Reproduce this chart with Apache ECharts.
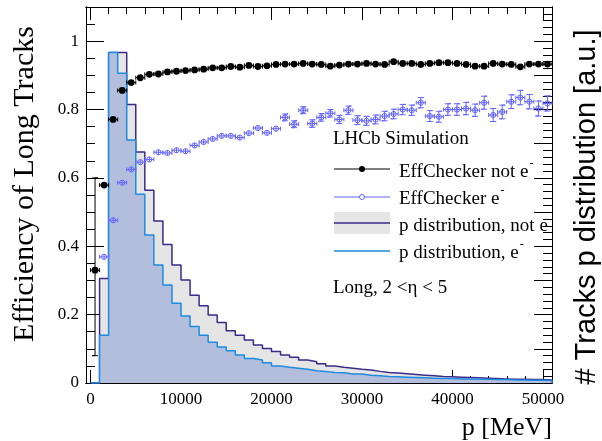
<!DOCTYPE html>
<html>
<head>
<meta charset="utf-8">
<script src="https://cdn.jsdelivr.net/npm/echarts@6/dist/echarts.min.js"></script>
<style>
  html, body { margin: 0; padding: 0; background: #fff; }
  #chart { width: 602px; height: 441px; }
</style>
</head>
<body>
<div id="chart"></div>
<script>
const SERIF = '"Liberation Serif", "Times New Roman", serif';
const SANS = '"Liberation Sans", Arial, sans-serif';

// p bins [MeV], 1 GeV wide, lower edges
const BIN = 1000;
const pBinLow = [0, 1000, 2000, 3000, 4000, 5000, 6000, 7000, 8000, 9000,
  10000, 11000, 12000, 13000, 14000, 15000, 16000, 17000, 18000, 19000,
  20000, 21000, 22000, 23000, 24000, 25000, 26000, 27000, 28000, 29000,
  30000, 31000, 32000, 33000, 34000, 35000, 36000, 37000, 38000, 39000,
  40000, 41000, 42000, 43000, 44000, 45000, 46000, 47000, 48000, 49000, 50000];

// p distributions (a.u.)
const histNotE = [0, 0.306, 0.967, 0.967, 0.815, 0.676, 0.564, 0.474, 0.405, 0.345,
  0.301, 0.257, 0.226, 0.199, 0.177, 0.153, 0.140, 0.126, 0.111, 0.101,
  0.092, 0.082, 0.075, 0.067, 0.062, 0.056, 0.050, 0.046, 0.043, 0.040,
  0.038, 0.034, 0.031, 0.029, 0.027, 0.025, 0.023, 0.021, 0.019, 0.018,
  0.017, 0.016, 0.015, 0.014, 0.013, 0.012, 0.011, 0.011, 0.010, 0.010, 0.009];
const histE = [0, 0.140, 0.967, 0.906, 0.711, 0.552, 0.433, 0.345, 0.287, 0.233,
  0.196, 0.165, 0.140, 0.119, 0.105, 0.094, 0.082, 0.072, 0.067, 0.059,
  0.050, 0.046, 0.043, 0.040, 0.036, 0.034, 0.031, 0.030, 0.026, 0.026,
  0.023, 0.021, 0.019, 0.018, 0.017, 0.016, 0.015, 0.014, 0.013, 0.013,
  0.012, 0.012, 0.011, 0.011, 0.010, 0.010, 0.009, 0.009, 0.008, 0.008, 0.007];

// efficiencies per bin
const effNotE = [0.330, 0.579, 0.771, 0.856, 0.879, 0.893, 0.903, 0.904, 0.910, 0.912,
  0.914, 0.916, 0.918, 0.922, 0.922, 0.926, 0.924, 0.929, 0.926, 0.928,
  0.932, 0.933, 0.933, 0.935, 0.933, 0.932, 0.927, 0.930, 0.933, 0.933,
  0.935, 0.933, 0.932, 0.940, 0.935, 0.935, 0.932, 0.935, 0.937, 0.937,
  0.935, 0.932, 0.927, 0.927, 0.935, 0.933, 0.932, 0.925, 0.933, 0.933, 0.933];
const effNotEErrHi = [0.270, 0.008, 0.005, 0.004, 0.004, 0.003, 0.003, 0.003, 0.003, 0.003,
  0.003, 0.003, 0.003, 0.003, 0.003, 0.003, 0.003, 0.003, 0.003, 0.003,
  0.003, 0.003, 0.003, 0.003, 0.003, 0.003, 0.003, 0.003, 0.003, 0.003,
  0.003, 0.003, 0.003, 0.003, 0.003, 0.003, 0.003, 0.003, 0.003, 0.003,
  0.003, 0.003, 0.003, 0.003, 0.003, 0.003, 0.003, 0.003, 0.003, 0.003, 0.003];
const effNotEErrLo = [0.250].concat(effNotEErrHi.slice(1));

const effE = [null, 0.369, 0.476, 0.586, 0.625, 0.646, 0.654, 0.675, 0.673, 0.681,
  0.678, 0.695, 0.705, 0.714, 0.723, 0.723, 0.718, 0.731, 0.746, 0.732,
  0.744, 0.777, 0.757, 0.798, 0.759, 0.777, 0.789, 0.771, 0.798, 0.769,
  0.767, 0.771, 0.781, 0.787, 0.800, 0.798, 0.820, 0.781, 0.779, 0.800,
  0.800, 0.803, 0.798, 0.820, 0.784, 0.793, 0.823, 0.835, 0.823, 0.803, 0.818];
const effEErr = [null, 0.007, 0.006, 0.005, 0.005, 0.005, 0.005, 0.005, 0.005, 0.006,
  0.006, 0.006, 0.006, 0.007, 0.007, 0.007, 0.008, 0.008, 0.008, 0.009,
  0.009, 0.010, 0.010, 0.010, 0.011, 0.011, 0.011, 0.012, 0.012, 0.013,
  0.013, 0.013, 0.014, 0.014, 0.015, 0.015, 0.015, 0.016, 0.016, 0.017,
  0.017, 0.018, 0.018, 0.019, 0.019, 0.020, 0.020, 0.021, 0.021, 0.022, 0.022];

// axis ticks
const xMajor = [0, 10000, 20000, 30000, 40000, 50000];
const yMajor = [0, 0.2, 0.4, 0.6, 0.8, 1];
const xMinor = [], yMinor = [], rMajor = [], rMinor = [];
for (let v = 0; v <= 50000; v += 2000) xMinor.push(v);
for (let k = 0; k <= 22; k++) yMinor.push(+(k * 0.05).toFixed(2));
for (let k = 0; k <= 11; k++) rMajor.push(+(k * 0.1).toFixed(2));
for (let k = 0; k <= 55; k++) rMinor.push(+(k * 0.02).toFixed(2));

const C_EFF_E = '#6464ff';
const C_HIST_NOTE = '#3b2a8a';
const C_FILL_NOTE = '#e5e5e5';
const C_HIST_E = '#1c8be0';
const C_FILL_E = '#b3bedd';

function stepData(h) {
  const d = pBinLow.map((x, i) => [x, h[i]]);
  d.push([pBinLow[pBinLow.length - 1] + BIN, 0]);
  return d;
}

// [p, eff] points
function effPts(vals) {
  const d = [];
  vals.forEach((v, i) => { if (v != null) d.push([pBinLow[i] + BIN / 2, v]); });
  return d;
}
// [p, low, high] for the vertical error bars
function errPts(vals, lo, hi) {
  const d = [];
  vals.forEach((v, i) => { if (v != null) d.push([pBinLow[i] + BIN / 2, v - lo[i], v + hi[i]]); });
  return d;
}

// marker + horizontal (bin width) error bar
function markerRender(color, filled, r) {
  const seg = (x1, y1, x2, y2) => ({
    type: 'line', shape: { x1, y1, x2, y2 }, style: { stroke: color, lineWidth: 1 }
  });
  return function (params, api) {
    const x = api.value(0), y = api.value(1);
    const c = api.coord([x, y]);
    const xl = api.coord([x - BIN / 2, y])[0];
    const xr = api.coord([x + BIN / 2, y])[0];
    const ch = [
      seg(xl, c[1], xr, c[1]),
      seg(xl, c[1] - 2, xl, c[1] + 2),
      seg(xr, c[1] - 2, xr, c[1] + 2),
      { type: 'circle', shape: { cx: c[0], cy: c[1], r: r },
        style: filled ? { fill: color } : { fill: 'none', stroke: color, lineWidth: 1 } }
    ];
    if (!filled) ch.push(seg(c[0], c[1] - r, c[0], c[1] + r));
    return { type: 'group', children: ch };
  };
}

// vertical error bar with caps, only where it sticks out of the marker
function errRender(color, r) {
  return function (params, api) {
    const x = api.value(0);
    const pb = api.coord([x, api.value(1)]);
    const pt = api.coord([x, api.value(2)]);
    if (!(pb[1] - pt[1] > 2 * r + 1)) return null;
    return {
      type: 'polyline',
      shape: { points: [[pt[0] - 3, pt[1]], [pt[0] + 3, pt[1]], [pt[0], pt[1]], [pb[0], pb[1]], [pb[0] - 3, pb[1]], [pb[0] + 3, pb[1]]] },
      style: { stroke: color, lineWidth: 1, fill: null }
    };
  };
}

const plainNum = v => String(v);

function xAx(pos, ticks, len, labels) {
  return {
    type: 'value', min: -500, max: 51000, position: pos,
    axisLine: { show: true, onZero: false, lineStyle: { color: '#000', width: 1 } },
    splitLine: { show: false },
    axisTick: { show: true, inside: true, length: len, customValues: ticks, lineStyle: { color: '#000', width: 1 } },
    axisLabel: labels ? { show: true, customValues: ticks, formatter: plainNum, color: '#000', fontFamily: SERIF, fontSize: 17, margin: 8 } : { show: false }
  };
}
function yAx(pos, ticks, len, labels) {
  return {
    type: 'value', min: 0, max: 1.1, position: pos,
    axisLine: { show: true, onZero: false, lineStyle: { color: '#000', width: 1 } },
    splitLine: { show: false },
    axisTick: { show: true, inside: true, length: len, customValues: ticks, lineStyle: { color: '#000', width: 1 } },
    axisLabel: labels ? { show: true, customValues: ticks, formatter: plainNum, color: '#000', fontFamily: SERIF, fontSize: 17, margin: 7 } : { show: false }
  };
}

// text width for superscripts in the legend
const mctx = document.createElement('canvas').getContext('2d');
function textW(str, font) { mctx.font = font; return mctx.measureText(str).width; }

const LEG_FONT = '19px ' + SERIF;
function legText(x, y, str, sup) {
  const els = [{
    type: 'text', x: x, y: y,
    style: { text: str, font: LEG_FONT, fill: '#000', textAlign: 'left', textVerticalAlign: 'middle' }
  }];
  if (sup) {
    els.push({
      type: 'text', x: x + textW(str, LEG_FONT) + 1, y: y - 8,
      style: { text: '-', font: '12px ' + SERIF, fill: '#000', textAlign: 'left', textVerticalAlign: 'middle' }
    });
  }
  return els;
}

const graphics = [
  { type: 'text', x: 25, y: 184, rotation: Math.PI / 2,
    style: { text: 'Efficiency of Long Tracks', font: '30px ' + SERIF, fill: '#000', textAlign: 'center', textVerticalAlign: 'middle' } },
  { type: 'text', x: 587, y: 207, rotation: Math.PI / 2,
    style: { text: '# Tracks p distribution [a.u.]', font: '29px ' + SANS, fill: '#000', textAlign: 'center', textVerticalAlign: 'middle' } },
  { type: 'text', x: 552, y: 428,
    style: { text: 'p [MeV]', font: '26px ' + SERIF, fill: '#000', textAlign: 'right', textVerticalAlign: 'middle' } },
  { type: 'text', x: 333, y: 139,
    style: { text: 'LHCb Simulation', font: '19px ' + SERIF, fill: '#000', textAlign: 'left', textVerticalAlign: 'middle' } },
  // legend row 1
  { type: 'line', shape: { x1: 334, y1: 169, x2: 390, y2: 169 }, style: { stroke: '#000', lineWidth: 1.2 } },
  { type: 'circle', shape: { cx: 362, cy: 169, r: 3 }, style: { fill: '#000' } },
  // legend row 2
  { type: 'line', shape: { x1: 334, y1: 197, x2: 390, y2: 197 }, style: { stroke: C_EFF_E, lineWidth: 1.2 } },
  { type: 'circle', shape: { cx: 362, cy: 197, r: 2.5 }, style: { fill: '#fff', stroke: C_EFF_E, lineWidth: 1 } },
  // legend row 3
  { type: 'rect', shape: { x: 334, y: 212, width: 56, height: 22 }, style: { fill: C_FILL_NOTE } },
  { type: 'line', shape: { x1: 334, y1: 223, x2: 390, y2: 223 }, style: { stroke: C_HIST_NOTE, lineWidth: 1.5 } },
  // legend row 4
  { type: 'line', shape: { x1: 334, y1: 251, x2: 390, y2: 251 }, style: { stroke: C_HIST_E, lineWidth: 1.5 } },
  { type: 'text', x: 333, y: 288,
    style: { text: 'Long, 2 <\u03b7 < 5', font: '19px ' + SERIF, fill: '#000', textAlign: 'left', textVerticalAlign: 'middle' } }
].concat(
  legText(399, 172, 'EffChecker not e', true),
  legText(399, 199, 'EffChecker e', true),
  legText(399, 226, 'p distribution, not e', false),
  legText(399, 253, 'p distribution, e', true)
);

const chart = echarts.init(document.getElementById('chart'), null, { renderer: 'canvas' });
chart.setOption({
  animation: false,
  backgroundColor: '#fff',
  grid: { left: 86, right: 50, top: 7, bottom: 58, containLabel: false },
  xAxis: [
    xAx('bottom', xMajor, 13, true),
    xAx('bottom', xMinor, 7, false),
    xAx('top', xMajor, 13, false),
    xAx('top', xMinor, 7, false)
  ],
  yAxis: [
    yAx('left', yMajor, 18, true),
    yAx('left', yMinor, 9, false),
    yAx('right', rMajor, 18, false),
    yAx('right', rMinor, 9, false)
  ],
  series: [
    {
      name: 'p distribution, not e', type: 'line', step: 'end', xAxisIndex: 0, yAxisIndex: 2,
      data: stepData(histNotE), showSymbol: false, z: 1,
      lineStyle: { color: C_HIST_NOTE, width: 1.5 },
      areaStyle: { color: C_FILL_NOTE, opacity: 1 }
    },
    {
      name: 'p distribution, e', type: 'line', step: 'end', xAxisIndex: 0, yAxisIndex: 2,
      data: stepData(histE), showSymbol: false, z: 2,
      lineStyle: { color: C_HIST_E, width: 1.5 },
      areaStyle: { color: C_FILL_E, opacity: 1 }
    },
    {
      name: 'EffChecker e', type: 'custom', xAxisIndex: 0, yAxisIndex: 0, z: 3,
      renderItem: markerRender(C_EFF_E, false, 2.6),
      data: effPts(effE)
    },
    {
      name: 'EffChecker e errors', type: 'custom', xAxisIndex: 0, yAxisIndex: 0, z: 3,
      encode: { x: 0, y: [1, 2] },
      renderItem: errRender(C_EFF_E, 2.6),
      data: errPts(effE, effEErr, effEErr)
    },
    {
      name: 'EffChecker not e', type: 'custom', xAxisIndex: 0, yAxisIndex: 0, z: 4,
      renderItem: markerRender('#000', true, 3.4),
      data: effPts(effNotE)
    },
    {
      name: 'EffChecker not e errors', type: 'custom', xAxisIndex: 0, yAxisIndex: 0, z: 5,
      encode: { x: 0, y: [1, 2] },
      renderItem: errRender('#000', 3.4),
      data: errPts(effNotE, effNotEErrLo, effNotEErrHi)
    }
  ],
  graphic: graphics
});
</script>
</body>
</html>
